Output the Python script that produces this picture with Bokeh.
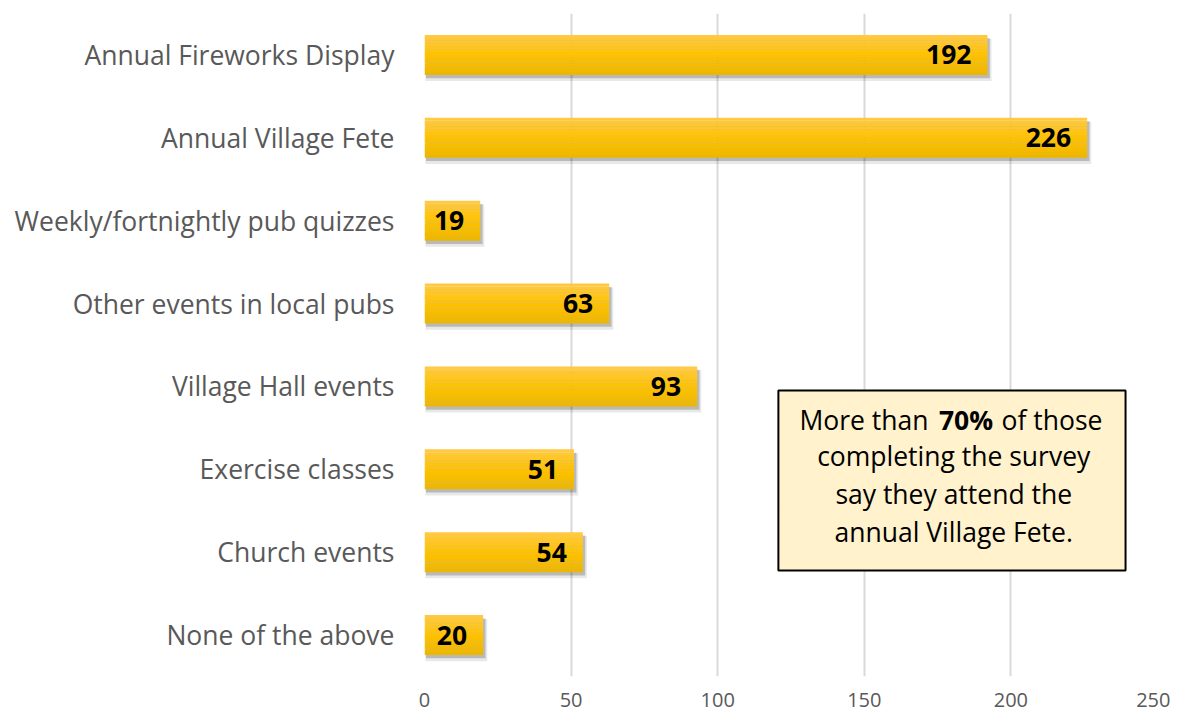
from bokeh.plotting import figure
from bokeh.models import Range1d, FixedTicker, BoxAnnotation, Label
from bokeh.core.properties import value
from bokeh.embed import file_html
from bokeh.resources import INLINE

categories = ["Annual Fireworks Display", "Annual Village Fete", "Weekly/fortnightly pub quizzes",
              "Other events in local pubs", "Village Hall events", "Exercise classes",
              "Church events", "None of the above"]
values = [192, 226, 19, 63, 93, 51, 54, 20]
x_ticks = [0, 50, 100, 150, 200, 250]

FONT = "Open Sans"
n = len(categories)
ys = [n - 1 - i for i in range(n)]

p = figure(width=1170, height=714, output_backend="svg", toolbar_location=None,
           x_range=Range1d(0, 250), y_range=Range1d(-0.5, n - 0.5),
           min_border_left=424, min_border_right=13, min_border_top=13, min_border_bottom=38)
p.outline_line_color = None
p.background_fill_color = "white"

# grid
p.xgrid.ticker = FixedTicker(ticks=x_ticks)
p.xgrid.grid_line_color = "#D9D9D9"
p.xgrid.grid_line_width = 2
p.ygrid.grid_line_color = None

# axes
p.xaxis.ticker = FixedTicker(ticks=x_ticks)
p.xaxis.axis_line_color = None
p.xaxis.major_tick_line_color = None
p.xaxis.minor_tick_line_color = None
p.xaxis.major_label_text_font = FONT
p.xaxis.major_label_text_font_size = "20px"
p.xaxis.major_label_text_color = "#595959"
p.xaxis.major_label_standoff = 10

p.yaxis.ticker = FixedTicker(ticks=ys)
p.yaxis.major_label_overrides = {y: c for y, c in zip(ys, categories)}
p.yaxis.axis_line_color = None
p.yaxis.major_tick_line_color = None
p.yaxis.minor_tick_line_color = None
p.yaxis.major_label_text_font = FONT
p.yaxis.major_label_text_font_size = "26.5px"
p.yaxis.major_label_text_color = "#595959"
p.yaxis.major_label_standoff = 24

# shadow
bh = 0.48
p.hbar(y=[y - 0.06 for y in ys], left=0.3, right=[v + 1.4 for v in values], height=bh + 0.03,
       fill_color="#000000", fill_alpha=0.09, line_color=None)
p.hbar(y=[y - 0.04 for y in ys], left=0.5, right=[v + 0.8 for v in values], height=bh,
       fill_color="#000000", fill_alpha=0.20, line_color=None)

# gradient bars (stacked strips)
stops = [(0.0, (255, 202, 72)), (0.5, (255, 194, 0)), (1.0, (236, 182, 0))]
def col(t):
    for (t0, c0), (t1, c1) in zip(stops[:-1], stops[1:]):
        if t <= t1:
            f = (t - t0) / (t1 - t0)
            return "#%02x%02x%02x" % tuple(int(round(a + (b - a) * f)) for a, b in zip(c0, c1))
    return "#%02x%02x%02x" % stops[-1][1]

ns = 14
sh = bh / ns
for k in range(ns):
    t = (k + 0.5) / ns
    off = bh / 2 - (k + 0.5) * sh
    p.hbar(y=[y + off for y in ys], left=0, right=values, height=sh * 1.04,
           fill_color=col(t), line_color=None)

# data labels
p.text(x=values, y=ys, text=[str(v) for v in values], x_offset=-16,
       text_align="right", text_baseline="middle", text_font=value(FONT),
       text_font_style="bold", text_font_size="26.5px", text_color="black")

# annotation box
box = BoxAnnotation(left=120.7, right=239.1, top=2.951, bottom=0.779,
                    fill_color="#FFF2CC", fill_alpha=1.0, line_color="black",
                    line_alpha=1.0, line_width=2)
p.add_layout(box)

def lab(x, y, t, align="center", bold=False):
    p.add_layout(Label(x=x, y=y, text=t, text_align=align, text_baseline="alphabetic",
                       text_font=FONT, text_font_size="26.5px", text_color="#000000",
                       text_font_style="bold" if bold else "normal"))

dy = 0.139
lab(171.9, 2.456 + dy, "More than", align="right")
lab(184.7, 2.456 + dy, "70%", bold=True)
lab(196.8, 2.456 + dy, "of those", align="left")
lab(180.5, 2.022 + dy, "completing the survey")
lab(180.5, 1.563 + dy, "say they attend the")
lab(180.5, 1.105 + dy, "annual Village Fete.")

open("out.html", "w").write(file_html(p, INLINE))
